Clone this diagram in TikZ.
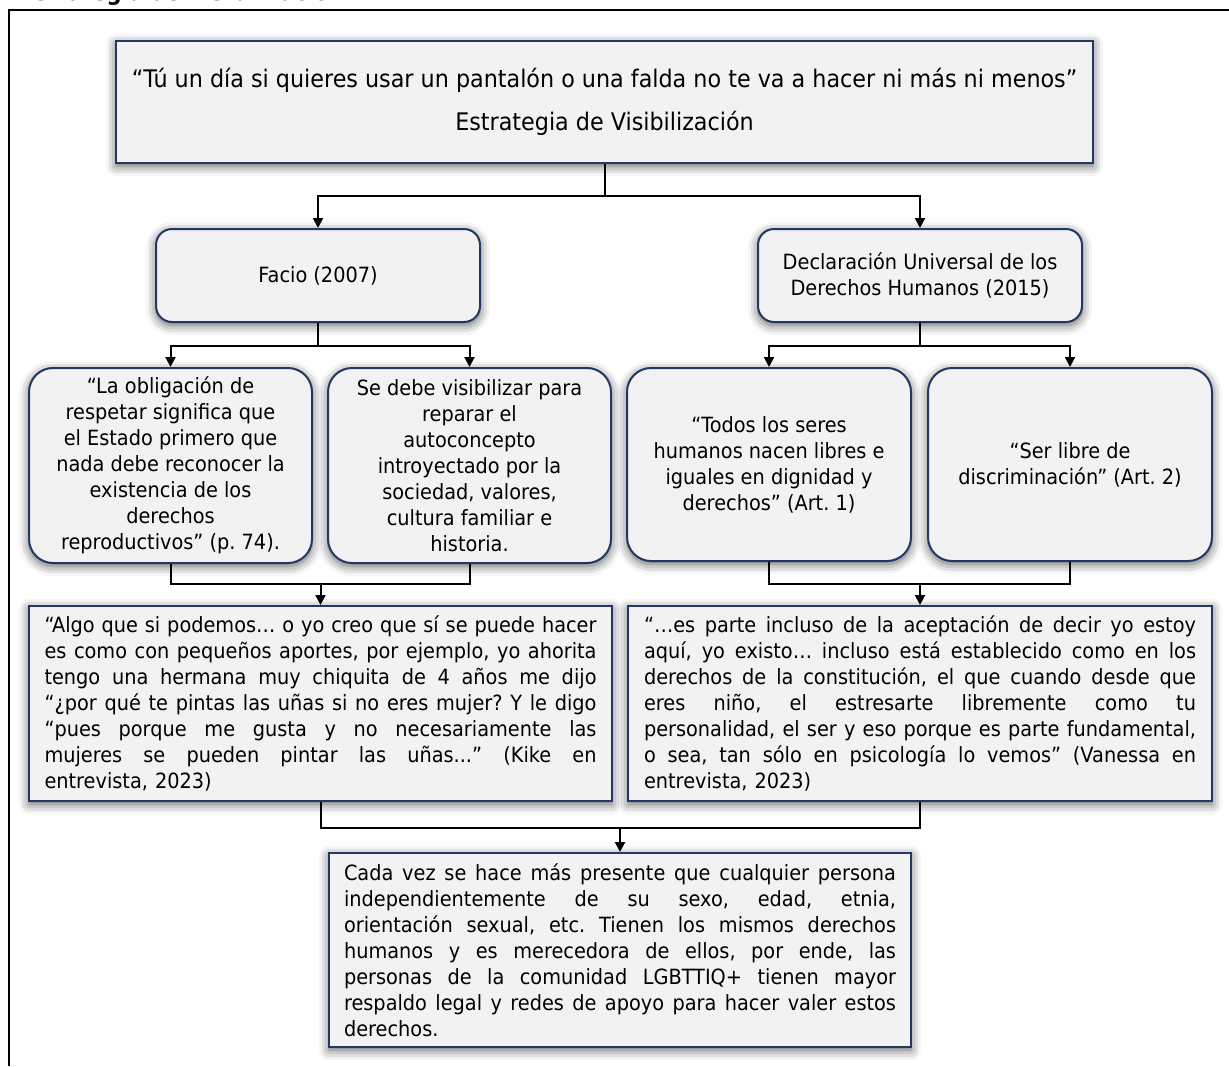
\documentclass[tikz,border=0pt]{standalone}
\usepackage{fontspec}
\setmainfont{DejaVu Sans}[FakeStretch=0.92]
\usetikzlibrary{arrows.meta, positioning, shadows.blur}
\definecolor{boxfill}{HTML}{F2F2F2}
\definecolor{boxline}{HTML}{1F3864}
\newcommand{\fullline}[1]{{\spaceskip=0pt\xspaceskip=0pt\makebox[276pt][s]{#1}}}

\begin{document}
\begin{tikzpicture}[x=0.5pt, y=-0.5pt,
    txt/.style={font=\fontsize{10.5}{13}\selectfont\frenchspacing},
    sqbox/.style={txt, draw=boxline, line width=1pt, fill=boxfill, inner sep=0pt,
        blur shadow={shadow xshift=0pt, shadow yshift=-1.5pt, shadow blur radius=5pt, shadow opacity=65}},
    rdbox/.style={sqbox, rounded corners=12pt, align=center},
    jbox/.style={sqbox, text width=276pt, align=left},
    line/.style={line width=1pt},
    arrow/.style={line, -{Triangle[width=5pt,length=5pt]}}]
    \useasboundingbox (0,0) rectangle (1229,1066);
    % frame of the figure
    \draw[line] (8,10) -- (1229,10);
    \draw[line] (9,10) -- (9,1066);
    \node[font=\bfseries\fontsize{11.5}{13}\selectfont, anchor=base west, inner sep=0pt] (caption) at (20,0) {Estrategia de Visibilización};

    \node[sqbox, font=\fontsize{12.1}{15}\selectfont, minimum width=488.5pt, minimum height=61pt, align=center] (top) at (604.5,102)
        {“Tú un día si quieres usar un pantalón o una falda no te va a hacer ni más ni menos”\\[6.5pt]
         Estrategia de Visibilización};

    \node[rdbox, rounded corners=8pt, minimum width=162pt, minimum height=46.5pt] (facio) at (318,275.5) {Facio (2007)};
    \node[rdbox, rounded corners=8pt, minimum width=162pt, minimum height=46.5pt] (decl) at (920,275.5)
        {Declaración Universal de los\\Derechos Humanos (2015)};

    \node[rdbox, minimum width=141.5pt, minimum height=97.5pt] (qa) at (170.5,465.5)
        {“La obligación de\\respetar significa que\\el Estado primero que\\nada debe reconocer la\\existencia de los\\derechos\\reproductivos” (p. 74).};
    \node[rdbox, minimum width=141.5pt, minimum height=97.5pt] (qb) at (469.5,465.5)
        {Se debe visibilizar para\\reparar el\\autoconcepto\\introyectado por la\\sociedad, valores,\\cultura familiar e\\historia.};
    \node[rdbox, minimum width=142pt, minimum height=96.5pt] (qc) at (769,464.5)
        {“Todos los seres\\humanos nacen libres e\\iguales en dignidad y\\derechos” (Art. 1)};
    \node[rdbox, minimum width=142pt, minimum height=96.5pt] (qd) at (1070,464.5)
        {“Ser libre de\\discriminación” (Art. 2)};

    \node[jbox, minimum width=291.5pt, minimum height=97.5pt] (kike) at (320.5,703.5)
        {\fullline{“Algo que si podemos… o yo creo que sí se puede hacer}\\
         \fullline{es como con pequeños aportes, por ejemplo, yo ahorita}\\
         \fullline{tengo una hermana muy chiquita de 4 años me dijo}\\
         \fullline{“¿por qué te pintas las uñas si no eres mujer? Y le digo}\\
         \fullline{“pues porque me gusta y no necesariamente las}\\
         \fullline{mujeres se pueden pintar las uñas...” (Kike en}\\
         entrevista, 2023)};
    \node[jbox, minimum width=292pt, minimum height=97.5pt] (vanessa) at (920,703.5)
        {\fullline{“…es parte incluso de la aceptación de decir yo estoy}\\
         \fullline{aquí, yo existo… incluso está establecido como en los}\\
         \fullline{derechos de la constitución, el que cuando desde que}\\
         \fullline{eres niño, el estresarte libremente como tu}\\
         \fullline{personalidad, el ser y eso porque es parte fundamental,}\\
         \fullline{o sea, tan sólo en psicología lo vemos” (Vanessa en}\\
         entrevista, 2023)};

    \node[jbox, minimum width=291pt, minimum height=97pt] (concl) at (620,950)
        {\fullline{Cada vez se hace más presente que cualquier persona}\\
         \fullline{independientemente de su sexo, edad, etnia,}\\
         \fullline{orientación sexual, etc. Tienen los mismos derechos}\\
         \fullline{humanos y es merecedora de ellos, por ende, las}\\
         \fullline{personas de la comunidad LGBTTIQ+ tienen mayor}\\
         \fullline{respaldo legal y redes de apoyo para hacer valer estos}\\
         derechos.};

    % connectors
    \draw[line] (top.south) -- ++(0,32) coordinate (s1);
    \draw[arrow] (s1) -| (facio.north);
    \draw[arrow] (s1) -| (decl.north);
    \draw[line] (facio.south) -- ++(0,23) coordinate (s2);
    \draw[arrow] (s2) -| (qa.north);
    \draw[arrow] (s2) -| (qb.north);
    \draw[line] (decl.south) -- ++(0,23) coordinate (s3);
    \draw[arrow] (s3) -| (qc.north);
    \draw[arrow] (s3) -| (qd.north);
    \draw[line] (qa.south) -- ++(0,20) coordinate (s4) -| (qb.south);
    \draw[arrow] (kike.north |- s4) -- (kike.north);
    \draw[line] (qc.south) -- ++(0,22) coordinate (s5) -| (qd.south);
    \draw[arrow] (vanessa.north |- s5) -- (vanessa.north);
    \draw[line] (kike.south) -- ++(0,26) coordinate (s6) -| (vanessa.south);
    \draw[arrow] (concl.north |- s6) -- (concl.north);
\end{tikzpicture}
\end{document}
